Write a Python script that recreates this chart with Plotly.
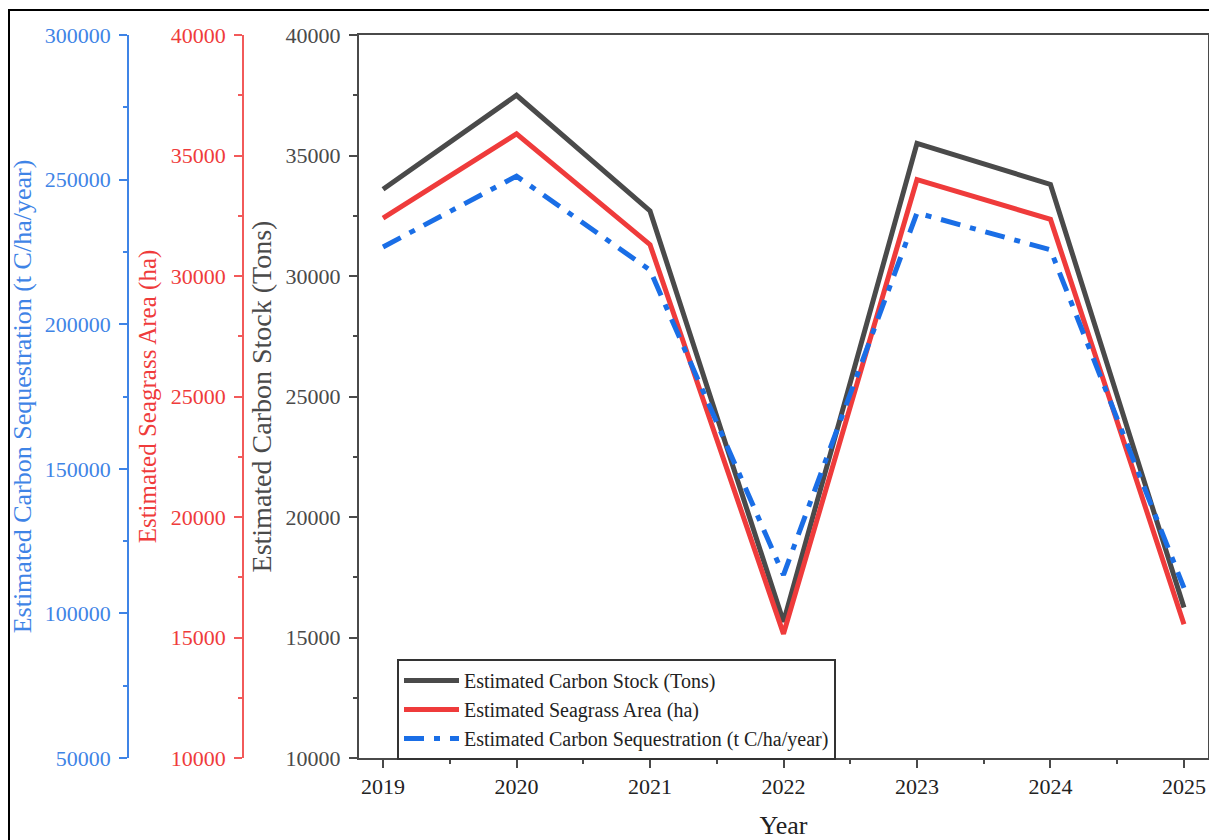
import plotly.graph_objects as go

years = [2019, 2020, 2021, 2022, 2023, 2024, 2025]
carbon_stock = [33600, 37500, 32700, 15650, 35500, 33800, 16250]
seagrass_area = [32400, 35900, 31300, 15150, 34000, 32350, 15550]
carbon_seq = [226700, 251200, 218700, 113300, 238500, 225700, 108800]

stock_ticks = [10000, 15000, 20000, 25000, 30000, 35000, 40000]
area_ticks = [10000, 15000, 20000, 25000, 30000, 35000, 40000]
seq_ticks = [50000, 100000, 150000, 200000, 250000, 300000]

FONT = "Liberation Serif"
GRAY = "#4a4a4a"
RED = "#ef3b3b"
BLUE = "#1a6ee6"
RED_AX = "#f25a5a"
BLUE_AX = "#3f84e6"

# page body has an 8px margin; the figure is sized so it fills the window
OFF = 8
W, H = 1217 - OFF, 840 - OFF
PLOT_L, PLOT_R, PLOT_T, PLOT_B = 359 - OFF, 1208 - OFF, 35 - OFF, 758 - OFF
ML, MR, MT, MB = 0, W - PLOT_R, PLOT_T, H - PLOT_B
PW = W - ML - MR
PH = H - MT - MB

fig = go.Figure()
fig.add_trace(go.Scatter(x=years, y=carbon_stock, mode="lines",
                         name="Estimated Carbon Stock (Tons)",
                         line=dict(color=GRAY, width=5), yaxis="y"))
fig.add_trace(go.Scatter(x=years, y=seagrass_area, mode="lines",
                         name="Estimated Seagrass Area (ha)",
                         line=dict(color=RED, width=5), yaxis="y2"))
fig.add_trace(go.Scatter(x=years, y=carbon_seq, mode="lines",
                         name="Estimated Carbon Sequestration (t C/ha/year)",
                         line=dict(color=BLUE, width=5, dash="20px,10px,6px,10px"),
                         yaxis="y3"))

tickfont = lambda c: dict(family=FONT, size=22, color=c)

fig.update_layout(
    width=W, height=H,
    margin=dict(l=ML, r=MR, t=MT, b=MB),
    plot_bgcolor="white", paper_bgcolor="white",
    font=dict(family=FONT, color=GRAY),
    xaxis=dict(
        domain=[PLOT_L / PW, 1],
        range=[2018.82, 2025.18],
        tickvals=years, ticktext=[str(y) for y in years],
        ticks="outside", ticklen=8, tickwidth=2, tickcolor=GRAY,
        minor=dict(dtick=0.5, tick0=2019, ticks="outside", ticklen=4, tickwidth=2, tickcolor=GRAY),
        showline=True, linecolor=GRAY, linewidth=2, mirror=True,
        showgrid=False, zeroline=False,
        tickfont=dict(family=FONT, size=22, color="#222222"),
        title=dict(text="Year", font=dict(family=FONT, size=26, color="#222222"), standoff=17),
    ),
    yaxis=dict(
        range=[10000, 40000], tickvals=stock_ticks, tickformat="d",
        ticks="outside", ticklen=8, tickwidth=2, tickcolor=GRAY, ticklabelstandoff=4,
        minor=dict(dtick=2500, ticks="outside", ticklen=4, tickwidth=2, tickcolor=GRAY),
        showline=True, linecolor=GRAY, linewidth=2, mirror=True,
        showgrid=False, zeroline=False,
        tickfont=tickfont(GRAY),
        title=dict(text="Estimated Carbon Stock (Tons)", font=dict(family=FONT, size=28, color=GRAY), standoff=6),
    ),
    yaxis2=dict(
        range=[10000, 40000], tickvals=area_ticks, tickformat="d",
        overlaying="y", anchor="free", position=(243 - OFF) / PW, side="left",
        ticks="outside", ticklen=8, tickwidth=1.5, tickcolor=RED_AX, ticklabelstandoff=4,
        minor=dict(dtick=2500, ticks="outside", ticklen=4, tickwidth=1.5, tickcolor=RED_AX),
        showline=True, linecolor=RED_AX, linewidth=1.5,
        showgrid=False, zeroline=False,
        tickfont=tickfont(RED),
        title=dict(text="Estimated Seagrass Area (ha)", font=dict(family=FONT, size=25, color=RED), standoff=6),
    ),
    yaxis3=dict(
        range=[50000, 300000], tickvals=seq_ticks, tickformat="d",
        overlaying="y", anchor="free", position=(128 - OFF) / PW, side="left",
        ticks="outside", ticklen=8, tickwidth=1.5, tickcolor=BLUE_AX, ticklabelstandoff=4,
        minor=dict(dtick=25000, ticks="outside", ticklen=4, tickwidth=1.5, tickcolor=BLUE_AX),
        showline=True, linecolor=BLUE_AX, linewidth=1.5,
        showgrid=False, zeroline=False,
        tickfont=tickfont(BLUE_AX),
        title=dict(text="Estimated Carbon Sequestration (t C/ha/year)", font=dict(family=FONT, size=26, color=BLUE_AX), standoff=6),
    ),
    legend=dict(
        x=(397 - OFF) / PW, y=(PLOT_B - (659 - OFF)) / PH, xanchor="left", yanchor="top",
        bgcolor="white", bordercolor="#333333", borderwidth=2,
        font=dict(family=FONT, size=20, color="#222222"),
        tracegroupgap=0, itemwidth=55,
    ),
    showlegend=True,
)

fig.add_shape(type="rect", xref="paper", yref="paper",
              x0=1 / PW, x1=(1213 - OFF) / PW,
              y0=(PLOT_B - (860 - OFF)) / PH, y1=(PLOT_B - (10 - OFF)) / PH,
              line=dict(color="black", width=2), fillcolor="rgba(0,0,0,0)", layer="below")

fig.write_html("out.html")
